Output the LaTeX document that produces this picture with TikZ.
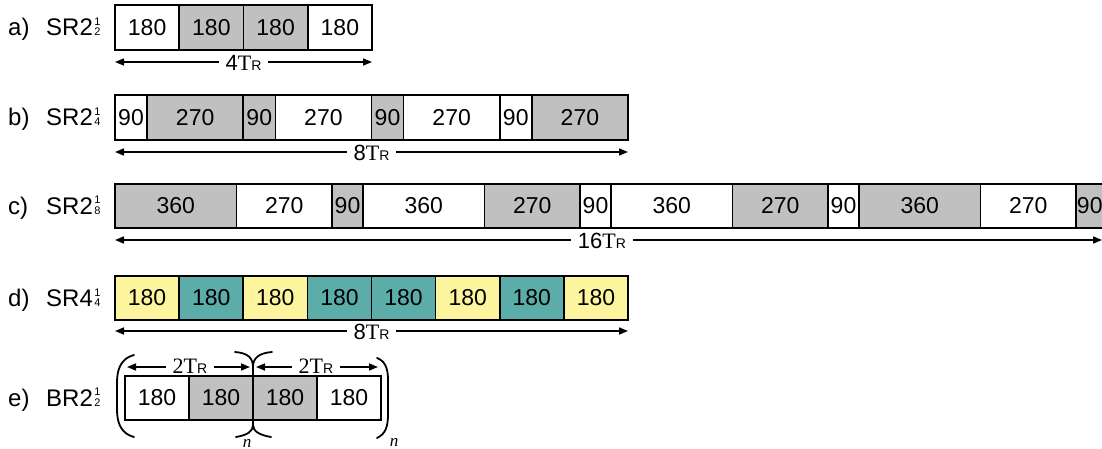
\documentclass[tikz,border=0pt]{standalone}
\usepackage{fontspec}
\setmainfont{Liberation Sans}
\newfontfamily\serifT{Liberation Serif}
\usetikzlibrary{arrows.meta,positioning,calc}
\definecolor{grayc}{RGB}{192,192,192}
\definecolor{yelc}{RGB}{252,245,158}
\definecolor{tealc}{RGB}{92,172,170}
\newcommand{\TR}{{\serifT T}{\fontsize{14}{14}\selectfont R}}
\newcommand{\stackscr}[2]{\kern1.5pt{\fontsize{11}{9.5}\selectfont\begin{tabular}[b]{@{}c@{}}#1\\#2\end{tabular}}}
\begin{document}
\begin{tikzpicture}[x=1pt,y=-1pt,
  cell/.style={draw=black,line width=1.6pt,inner sep=0pt,outer sep=0pt,font=\fontsize{23}{23}\selectfont,minimum height=44pt},
  gr/.style={fill=grayc}, wh/.style={fill=white}, ye/.style={fill=yelc}, te/.style={fill=tealc},
  dim/.style={line width=1.6pt,{Triangle[length=9pt,width=7pt]}-{Triangle[length=9pt,width=7pt]}},
  dimlab/.style={fill=white,inner xsep=7pt,inner ysep=1pt,font=\fontsize{22}{22}\selectfont},
  rowlab/.style={anchor=base west,inner sep=0pt,font=\fontsize{24}{24}\selectfont},
  nlab/.style={inner sep=0pt,font=\fontsize{17}{17}\selectfont\serifT\itshape},
  brk/.style={line width=1.8pt,line cap=round}]
\useasboundingbox (0,0) rectangle (1102,449);
\clip (0,0) rectangle (1102,449);

% ---------- a ----------
\node[rowlab] (la) at (8,36) {a)};
\node[rowlab] (sa) at (46,36) {SR2\stackscr{1}{2}};
\node[cell,wh,minimum width=64.25pt,minimum height=45pt,anchor=west] (a1) at (115,27.5) {180};
\node[cell,gr,minimum width=64.25pt,minimum height=45pt,right=0pt of a1] (a2) {180};
\node[cell,gr,minimum width=64.25pt,minimum height=45pt,right=0pt of a2] (a3) {180};
\node[cell,wh,minimum width=64.25pt,minimum height=45pt,right=0pt of a3] (a4) {180};
\coordinate (aL) at ($(a1.south west)+(0,12)$);
\coordinate (aR) at ($(a4.south east)+(0,12)$);
\draw[dim] (aL) -- (aR);
\node[dimlab] (aT) at ($(aL)!0.5!(aR)+(0,1)$) {4\TR};

% ---------- b ----------
\node[rowlab] (lb) at (8,126) {b)};
\node[rowlab] (sb) at (46,126) {SR2\stackscr{1}{4}};
\node[cell,wh,minimum width=32.06pt,minimum height=45pt,anchor=west] (b1) at (115,117.5) {90};
\node[cell,gr,minimum width=96.19pt,minimum height=45pt,right=0pt of b1] (b2) {270};
\node[cell,gr,minimum width=32.06pt,minimum height=45pt,right=0pt of b2] (b3) {90};
\node[cell,wh,minimum width=96.19pt,minimum height=45pt,right=0pt of b3] (b4) {270};
\node[cell,gr,minimum width=32.06pt,minimum height=45pt,right=0pt of b4] (b5) {90};
\node[cell,wh,minimum width=96.19pt,minimum height=45pt,right=0pt of b5] (b6) {270};
\node[cell,wh,minimum width=32.06pt,minimum height=45pt,right=0pt of b6] (b7) {90};
\node[cell,gr,minimum width=96.19pt,minimum height=45pt,right=0pt of b7] (b8) {270};
\coordinate (bL) at ($(b1.south west)+(0,12)$);
\coordinate (bR) at ($(b8.south east)+(0,12)$);
\draw[dim] (bL) -- (bR);
\node[dimlab] (bT) at ($(bL)!0.5!(bR)+(0,1)$) {8\TR};

% ---------- c ----------
\node[rowlab] (lc) at (8,214.5) {c)};
\node[rowlab] (sc) at (46,214.5) {SR2\stackscr{1}{8}};
\node[cell,gr,minimum width=121.5pt,anchor=west] (c1) at (115,206) {360};
\node[cell,wh,minimum width=95.5pt,right=0pt of c1] (c2) {270};
\node[cell,gr,minimum width=31pt,right=0pt of c2] (c3) {90};
\node[cell,wh,minimum width=121.5pt,right=0pt of c3] (c4) {360};
\node[cell,gr,minimum width=95.5pt,right=0pt of c4] (c5) {270};
\node[cell,wh,minimum width=31pt,right=0pt of c5] (c6) {90};
\node[cell,wh,minimum width=121.5pt,right=0pt of c6] (c7) {360};
\node[cell,gr,minimum width=95.5pt,right=0pt of c7] (c8) {270};
\node[cell,wh,minimum width=31pt,right=0pt of c8] (c9) {90};
\node[cell,gr,minimum width=121.5pt,right=0pt of c9] (c10) {360};
\node[cell,wh,minimum width=95.5pt,right=0pt of c10] (c11) {270};
\node[cell,gr,minimum width=31pt,right=0pt of c11] (c12) {\hspace*{-3.5pt}90};
\coordinate (cL) at ($(c1.south west)+(0,12)$);
\coordinate (cR) at (1102,240);
\draw[dim] (cL) -- (cR);
\node[dimlab] (cT) at (602,241) {16\TR};

% ---------- d ----------
\node[rowlab] (ld) at (8,306.5) {d)};
\node[rowlab] (sd) at (46,306.5) {SR4\stackscr{1}{4}};
\node[cell,ye,minimum width=64.125pt,anchor=west] (d1) at (115,298) {180};
\node[cell,te,minimum width=64.125pt,right=0pt of d1] (d2) {180};
\node[cell,ye,minimum width=64.125pt,right=0pt of d2] (d3) {180};
\node[cell,te,minimum width=64.125pt,right=0pt of d3] (d4) {180};
\node[cell,te,minimum width=64.125pt,right=0pt of d4] (d5) {180};
\node[cell,ye,minimum width=64.125pt,right=0pt of d5] (d6) {180};
\node[cell,te,minimum width=64.125pt,right=0pt of d6] (d7) {180};
\node[cell,ye,minimum width=64.125pt,right=0pt of d7] (d8) {180};
\coordinate (dL) at ($(d1.south west)+(0,11)$);
\coordinate (dR) at ($(d8.south east)+(0,11)$);
\draw[dim] (dL) -- (dR);
\node[dimlab] (dT) at ($(dL)!0.5!(dR)+(0,1)$) {8\TR};

% ---------- e ----------
\node[rowlab] (le) at (8,406.5) {e)};
\node[rowlab] (se) at (46,406.5) {BR2\stackscr{1}{2}};
\node[cell,wh,minimum width=64pt,anchor=west] (e1) at (125,398) {180};
\node[cell,gr,minimum width=64pt,right=0pt of e1] (e2) {180};
\node[cell,gr,minimum width=64pt,right=0pt of e2] (e3) {180};
\node[cell,wh,minimum width=64pt,right=0pt of e3] (e4) {180};
\coordinate (eL1) at (127,367);
\coordinate (eR1) at (250,367);
\coordinate (eL2) at (256,367);
\coordinate (eR2) at (378,367);
\draw[dim] (eL1) -- (eR1);
\draw[dim] (eL2) -- (eR2);
\node[dimlab,font=\fontsize{22}{22}\selectfont\serifT] (eT1) at (190,366) {2T{\fontsize{14}{14}\selectfont\sffamily\setmainfont{Liberation Sans}\normalfont R}};
\node[dimlab,font=\fontsize{22}{22}\selectfont\serifT] (eT2) at (316,366) {2T{\fontsize{14}{14}\selectfont\sffamily\setmainfont{Liberation Sans}\normalfont R}};
% brackets
\draw[brk] (134,355) .. controls (122,358) and (117,368) .. (117,382) -- (117,410) .. controls (117,424) and (122,434) .. (134,437);
\draw[brk] (377,358) .. controls (385,361) and (388,368) .. (388,380) -- (388,414) .. controls (388,428) and (385,434) .. (377,438);
\draw[brk] (235,352) .. controls (248,353) and (253,358) .. (253,367) -- (253,425) .. controls (253,431) and (248,435) .. (236,437);
\draw[brk] (272,352) .. controls (259,353) and (253,358) .. (253,367) -- (253,425) .. controls (253,431) and (259,435) .. (271,437);
\node[nlab] (n1) at (247,443) {n};
\node[nlab] (n2) at (394,442) {n};
\end{tikzpicture}
\end{document}
